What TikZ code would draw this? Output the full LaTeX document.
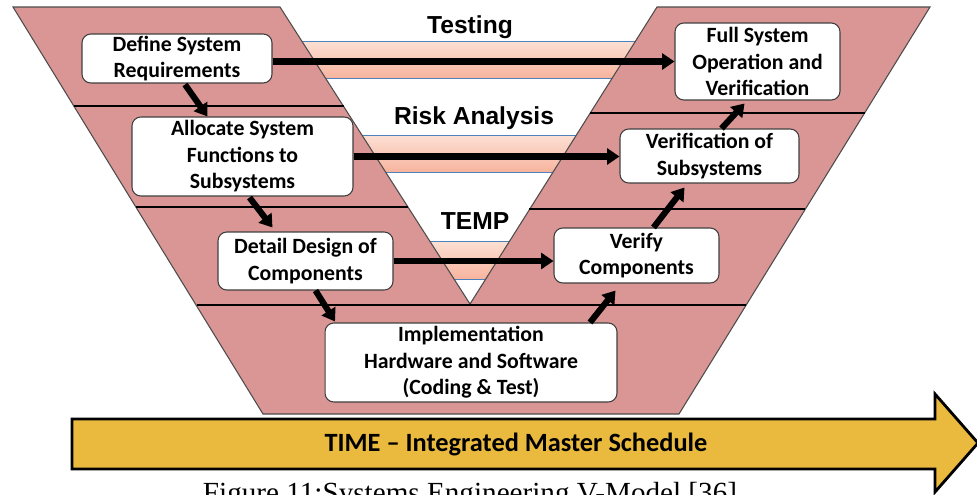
\documentclass[tikz,border=0pt]{standalone}
\usepackage{fontspec}
\setmainfont{Carlito}
\newfontfamily\arialfont{Liberation Sans}
\newfontfamily\timesfont{Liberation Serif}
\usepackage{xcolor}
\usetikzlibrary{arrows.meta}

\definecolor{vrose}{RGB}{217,150,148}
\definecolor{bandtop}{RGB}{252,224,212}
\definecolor{bandbot}{RGB}{247,180,158}
\definecolor{bandline}{RGB}{79,129,189}
\definecolor{timegold}{RGB}{233,186,62}

\begin{document}
\begin{tikzpicture}[
	  x=0.02cm, y=-0.02cm,
	  %style for arrows
	  arrw/.style={line width=3.5pt, -{Triangle[length=7pt,width=9pt]}},
	  % style for boxes
	  bx/.style={rectangle, rounded corners=5pt, fill=white, draw=black!75, line width=0.6pt, align=center, inner sep=1pt, font=\fontsize{12.4}{15.1}\selectfont\bfseries},
	  % style for the bands behind the V
	  band/.style={draw=bandline, line width=0.5pt, top color=bandtop, bottom color=bandbot},
	  % style for band titles
	  ttl/.style={font=\arialfont\fontsize{14}{16}\selectfont\bfseries},
	  % divider lines
	  dvd/.style={line width=0.8pt}]

      \useasboundingbox (0,0) rectangle (977,494);
      \fill[white] (0,0) rectangle (977,494);

      % bands
      \draw[band] (295,41) rectangle (645,78);
      \draw[band] (350,135) rectangle (600,172);
      \draw[band] (420,241) rectangle (520,279);

      % the V
      \draw[fill=vrose, draw=black!70, line width=0.6pt] (13,7) -- (280,7) -- (470,304) -- (657,7) -- (930,7) -- (679,414) -- (263,414) -- cycle;
      \draw[dvd] (74,106) -- (344,106);
      \draw[dvd] (136,207) -- (408,207);
      \draw[dvd] (590,113) -- (865,113);
      \draw[dvd] (529,209) -- (805,209);
      \draw[dvd] (197,305) -- (746,305);

      \node[ttl](testing) at (470,27) {Testing};
      \node[ttl](risk) at (474,118) {Risk Analysis};
      \node[ttl](temp) at (475,221) {TEMP};

      % boxes
      \node[bx, minimum width=3.8cm, minimum height=0.98cm](sysreq) at (177,58.5) {Define System\\Requirements};
      \node[bx, minimum width=4.42cm, minimum height=1.58cm](alloc) at (242.5,156.5) {Allocate System\\Functions to\\Subsystems};
      \node[bx, minimum width=3.5cm, minimum height=1.16cm](design) at (305.5,261) {Detail Design of\\Components};
      \node[bx, minimum width=5.84cm, minimum height=1.58cm](impl) at (471,362.5) {Implementation\\Hardware and Software\\(Coding \& Test)};
      \node[bx, minimum width=3.3cm, minimum height=1.1cm](vercomp) at (636.5,255.5) {Verify\\Components};
      \node[bx, minimum width=3.58cm, minimum height=1.08cm](versub) at (709.5,156) {Verification of\\Subsystems};
      \node[bx, minimum width=3.3cm, minimum height=1.54cm](fullsys) at (757.5,61.5) {Full System\\Operation and\\Verification};

      % arrows
      \draw[arrw] (sysreq.east |- fullsys.west) -- (fullsys.west);
      \draw[arrw] (alloc.east) -- (alloc.east -| versub.west);
      \draw[arrw] (design.east) -- (design.east -| vercomp.west);
      \draw[arrw] ([shift={(8,1)}]sysreq.south) -- ([shift={(-35,0)}]alloc.north);
      \draw[arrw] ([shift={(7,1)}]alloc.south) -- ([shift={(-33,-4)}]design.north);
      \draw[arrw] ([shift={(10,0)}]design.south) -- ([shift={(-136,-1)}]impl.north);
      \draw[arrw] ([shift={(119,0)}]impl.north) -- ([shift={(-21,7)}]vercomp.south);
      \draw[arrw] ([shift={(17,0)}]vercomp.north) -- ([shift={(-25,4)}]versub.south);
      \draw[arrw] ([shift={(12,0)}]versub.north) -- ([shift={(-13,3)}]fullsys.south);

      % time arrow
      \draw[fill=timegold, line width=1.6pt] (72,419) -- (935,419) -- (935,394) -- (978,443) -- (935,492) -- (935,469) -- (72,469) -- cycle;
      \node[font=\fontsize{15}{18}\selectfont\bfseries](time) at (516,444) {TIME -- Integrated Master Schedule};

      \node[font=\timesfont\fontsize{16.6}{20}\selectfont, anchor=base](caption) at (470,502) {Figure 11:Systems Engineering V-Model [36]};

\end{tikzpicture}
\end{document}
